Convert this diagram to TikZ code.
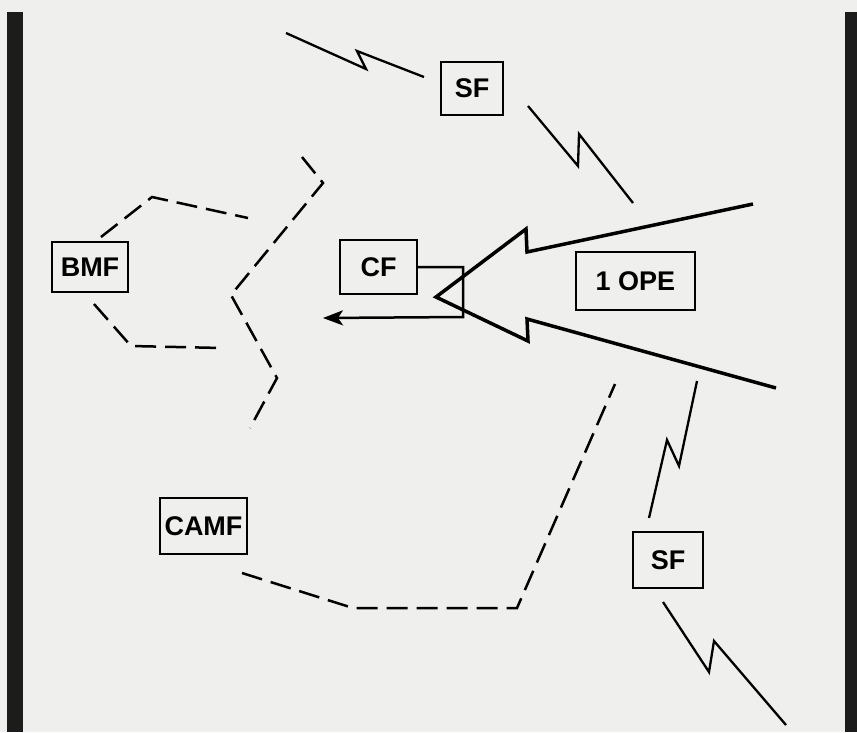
\documentclass[tikz,border=0pt]{standalone}
\usepackage{fontspec}
\setmainfont{Liberation Sans}
\usetikzlibrary{arrows.meta}
\definecolor{paper}{HTML}{EFEFED}
\definecolor{bar}{HTML}{1C1C1C}
\tikzset{
  unitbox/.style={draw=black, line width=2.4pt, inner sep=0pt, font=\bfseries\fontsize{27}{30}\selectfont},
  bolt/.style={draw=black, line width=2.3pt, line join=miter},
  dashline/.style={draw=black, line width=2.5pt, dash pattern=on 21pt off 9pt},
  bigarrow/.style={draw=black, line width=3.5pt, line join=miter, miter limit=4},
  bracket/.style={draw=black, line width=2.5pt, -{Stealth[length=20pt,width=15pt,inset=5pt]}}
}
\begin{document}
\begin{tikzpicture}[x=1pt,y=-1pt]
\useasboundingbox (0,0) rectangle (857,732);
\fill[paper] (0,0) rectangle (857,732);
\fill[bar] (7,12) rectangle (23,732);
\fill[bar] (845,12) rectangle (857,732);

% boxes
\node[unitbox, minimum width=62pt, minimum height=53pt] (sftop) at (472,88.5) {SF};
\node[unitbox, minimum width=76pt, minimum height=50pt] (bmf) at (90,267) {BMF};
\node[unitbox, minimum width=77pt, minimum height=54pt] (cf) at (378.5,267) {CF};
\node[unitbox, minimum width=119pt, minimum height=58pt] (ope) at (635.5,281) {1 OPE};
\node[unitbox, minimum width=87pt, minimum height=56pt] (camf) at (203.5,526) {CAMF};
\node[unitbox, minimum width=70pt, minimum height=56pt] (sfbot) at (668,560) {SF};

% lightning bolts
\coordinate (l1a) at (286,33);
\coordinate (l1b) at (424,77);
\draw[bolt] (l1a) -- (366,69) -- (357,51) -- (l1b);
\coordinate (l2a) at (528,106);
\coordinate (l2b) at (633,203);
\draw[bolt] (l2a) -- (578,166) -- (579,134) -- (l2b);
\coordinate (l3a) at (697,381);
\coordinate (l3b) at (649,518);
\draw[bolt] (l3a) -- (679,466) -- (667,440) -- (l3b);
\coordinate (l4a) at (663,602);
\coordinate (l4b) at (786,725);
\draw[bolt] (l4a) -- (709,672) -- (714,641) -- (l4b);

% big hollow arrow
\coordinate (ua) at (753,204);
\coordinate (tip) at (436,297);
\coordinate (la) at (776,388);
\draw[bigarrow] (ua) -- (527,252) -- (526,229) -- (tip) -- (528,341) -- (527,319) -- (la);

% bracket from CF
\coordinate (cfback) at (323,318);
\draw[bracket] (cf.east) -- (463,267) -- (463,317) -- (cfback);

% dashed lines
\coordinate (d1a) at (101,237);
\coordinate (d1b) at (248,218);
\draw[dashline] (d1a) -- (152,197) -- (d1b);
\coordinate (d2a) at (94,304);
\coordinate (d2b) at (222,348);
\draw[dashline] (d2a) -- (131,346) -- (d2b);
\coordinate (d3a) at (302,157);
\coordinate (d3b) at (250,428);
\draw[dashline] (d3a) -- (323,183) -- (231,295) -- (277,378) -- (d3b);
\coordinate (d4a) at (242,573);
\coordinate (d4b) at (615,384);
\draw[dashline] (d4a) -- (353,608) -- (517,608) -- (d4b);
\end{tikzpicture}
\end{document}
